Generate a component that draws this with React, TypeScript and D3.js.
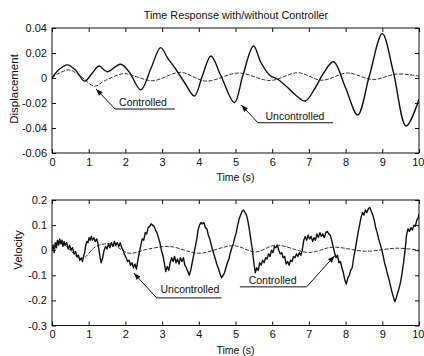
import React, { useEffect, useRef } from "react";
import * as d3 from "d3";

type Pt = [number, number];

const W = 424;
const H = 356;

const timeTicks = [0, 1, 2, 3, 4, 5, 6, 7, 8, 9, 10];
const dispTicks = [-0.06, -0.04, -0.02, 0, 0.02, 0.04];
const dispTickLabels = ["-0.06", "-0.04", "-0.02", "0", "0.02", "0.04"];
const velTicks = [-0.3, -0.2, -0.1, 0, 0.1, 0.2];
const velTickLabels = ["-0.3", "-0.2", "-0.1", "0", "0.1", "0.2"];

// displacement
const dispUncontrolled: Pt[] = [
  [0, 0], [0.2, 0.007], [0.42, 0.0105], [0.65, 0.006], [0.89, -0.0025],
  [1.1, 0.004], [1.28, 0.0096], [1.5, 0.005], [1.87, 0.011], [2.1, 0.005],
  [2.42, -0.0095], [2.7, 0.008], [2.96, 0.0243], [3.15, 0.016], [3.35, 0.008],
  [3.62, -0.004], [3.88, -0.0144], [4.1, 0.002], [4.33, 0.0176], [4.6, 0.002],
  [4.97, -0.0197], [5.2, 0.002], [5.49, 0.0256], [5.7, 0.012], [5.94, 0.002],
  [6.15, -0.001], [6.4, -0.007], [6.65, -0.014], [6.9, -0.0184], [7.17, -0.008],
  [7.4, 0.004], [7.67, 0.013], [8.0, -0.008], [8.33, -0.0296], [8.65, 0.002],
  [9.0, 0.0355], [9.3, 0.005], [9.65, -0.0384], [10, -0.017],
];

const dispControlled: Pt[] = [
  [0, 0], [0.2, 0.004], [0.48, 0.0064], [0.8, 0.001], [1.15, -0.0065],
  [1.45, -0.002], [1.95, 0.0035], [2.3, 0.001], [2.75, -0.0022], [3.5, 0.0045],
  [4.2, -0.0025], [5.08, 0.004], [5.95, -0.002], [6.7, 0.0042], [7.35, -0.0018],
  [8.05, 0.004], [8.75, -0.0012], [9.4, 0.0032], [10, 0.0015],
];

// velocity
const velUncontrolled: Pt[] = [
  [0, 0], [0.03, 0.02], [0.06, -0.01], [0.09, 0.03], [0.12, 0.01], [0.15, 0.04],
  [0.18, 0.02], [0.21, 0.045], [0.24, 0.025], [0.27, 0.04], [0.3, 0.015],
  [0.33, 0.035], [0.36, 0.02], [0.4, 0.03], [0.44, 0.005], [0.48, 0.02],
  [0.52, 0.0], [0.56, 0.01], [0.6, -0.015], [0.64, -0.005], [0.68, -0.025],
  [0.72, -0.02], [0.76, -0.04], [0.8, -0.03], [0.83, -0.045], [0.86, -0.025],
  [0.89, -0.01], [0.92, 0.02], [0.95, 0.035], [0.98, 0.03], [1.01, 0.05],
  [1.04, 0.04], [1.07, 0.055], [1.1, 0.04], [1.14, 0.05], [1.18, 0.035],
  [1.22, 0.045], [1.26, 0.02], [1.3, -0.02], [1.34, -0.05], [1.38, -0.03],
  [1.42, 0.0], [1.46, 0.015], [1.5, 0.005], [1.54, 0.025], [1.58, 0.01],
  [1.62, 0.03], [1.66, 0.015], [1.7, 0.035], [1.74, 0.02], [1.78, 0.03],
  [1.82, 0.015], [1.86, 0.03], [1.9, 0.01], [1.94, 0.0], [1.98, -0.02],
  [2.02, -0.03], [2.06, -0.045], [2.1, -0.04], [2.14, -0.06], [2.18, -0.05],
  [2.22, -0.07], [2.26, -0.055], [2.3, -0.075], [2.34, -0.04], [2.38, -0.01],
  [2.42, 0.02], [2.46, 0.045], [2.5, 0.04], [2.54, 0.07], [2.58, 0.065],
  [2.62, 0.09], [2.66, 0.095], [2.7, 0.105], [2.74, 0.1], [2.78, 0.095],
  [2.82, 0.08], [2.86, 0.07], [2.9, 0.05], [2.94, 0.03], [2.98, 0.0],
  [3.02, -0.02], [3.06, -0.05], [3.1, -0.085], [3.14, -0.065], [3.18, -0.08],
  [3.22, -0.05], [3.26, -0.03], [3.3, -0.045], [3.34, -0.025], [3.38, -0.05],
  [3.42, -0.035], [3.46, -0.055], [3.5, -0.03], [3.54, -0.045], [3.58, -0.03],
  [3.62, -0.06], [3.66, -0.07], [3.7, -0.085], [3.74, -0.1], [3.78, -0.08],
  [3.82, -0.05], [3.86, -0.02], [3.9, 0.01], [3.94, 0.04], [3.98, 0.08],
  [4.02, 0.1], [4.06, 0.11], [4.1, 0.105], [4.14, 0.11], [4.18, 0.09],
  [4.22, 0.085], [4.26, 0.06], [4.3, 0.045], [4.34, 0.02], [4.38, 0.0],
  [4.42, -0.02], [4.46, -0.04], [4.5, -0.06], [4.54, -0.075], [4.58, -0.095],
  [4.62, -0.11], [4.66, -0.1], [4.7, -0.09], [4.74, -0.07], [4.78, -0.05],
  [4.82, -0.035], [4.86, -0.01], [4.9, 0.01], [4.94, 0.025], [4.98, 0.05],
  [5.02, 0.07], [5.06, 0.1], [5.1, 0.125], [5.14, 0.14], [5.18, 0.155],
  [5.22, 0.16], [5.26, 0.15], [5.3, 0.14], [5.34, 0.115], [5.38, 0.08],
  [5.42, 0.04], [5.46, 0.0], [5.5, -0.05], [5.54, -0.09], [5.58, -0.07],
  [5.62, -0.08], [5.66, -0.05], [5.7, -0.06], [5.74, -0.04], [5.78, -0.05],
  [5.82, -0.03], [5.86, -0.035], [5.9, -0.015], [5.94, -0.025], [5.98, 0.0],
  [6.02, -0.01], [6.06, 0.015], [6.1, 0.01], [6.14, 0.02], [6.18, 0.0],
  [6.22, -0.015], [6.26, -0.01], [6.3, -0.03], [6.34, -0.025], [6.38, -0.055],
  [6.42, -0.045], [6.46, -0.06], [6.5, -0.04], [6.54, -0.045], [6.58, -0.025],
  [6.62, -0.03], [6.66, -0.015], [6.7, -0.025], [6.74, -0.01], [6.78, -0.02],
  [6.82, 0.0], [6.86, 0.04], [6.9, 0.055], [6.94, 0.04], [6.98, 0.06],
  [7.02, 0.045], [7.06, 0.055], [7.1, 0.035], [7.14, 0.05], [7.18, 0.04],
  [7.22, 0.065], [7.26, 0.05], [7.3, 0.07], [7.34, 0.055], [7.38, 0.065],
  [7.42, 0.05], [7.46, 0.07], [7.5, 0.075], [7.54, 0.065], [7.58, 0.06],
  [7.62, 0.04], [7.66, 0.015], [7.7, -0.01], [7.74, -0.03], [7.78, -0.02],
  [7.82, -0.05], [7.86, -0.045], [7.9, -0.07], [7.94, -0.09], [7.98, -0.12],
  [8.02, -0.135], [8.06, -0.11], [8.1, -0.1], [8.14, -0.08], [8.18, -0.07],
  [8.22, -0.03], [8.26, 0.0], [8.3, 0.035], [8.34, 0.07], [8.38, 0.1],
  [8.42, 0.13], [8.46, 0.15], [8.5, 0.14], [8.54, 0.16], [8.58, 0.15],
  [8.62, 0.165], [8.66, 0.17], [8.7, 0.155], [8.74, 0.14], [8.78, 0.12],
  [8.82, 0.09], [8.86, 0.07], [8.9, 0.045], [8.94, 0.025], [8.98, 0.005],
  [9.02, -0.02], [9.06, -0.05], [9.1, -0.07], [9.14, -0.095], [9.18, -0.115],
  [9.22, -0.14], [9.26, -0.165], [9.3, -0.185], [9.34, -0.205], [9.38, -0.19],
  [9.42, -0.17], [9.46, -0.15], [9.5, -0.125], [9.54, -0.09], [9.58, -0.05],
  [9.62, 0.0], [9.66, 0.06], [9.7, 0.085], [9.74, 0.075], [9.78, 0.09],
  [9.82, 0.08], [9.86, 0.1], [9.9, 0.095], [9.94, 0.12], [9.98, 0.13],
  [10, 0.145],
];

const velControlled: Pt[] = [
  [0, 0], [0.1, 0.03], [0.35, 0.02], [0.8, -0.035], [1.2, 0.015], [1.6, 0.025],
  [2.1, -0.012], [2.6, 0.004], [3.2, 0.015], [4.0, -0.012], [4.95, 0.018],
  [5.55, -0.007], [6.1, 0.02], [7.0, -0.009], [7.65, 0.012], [8.55, -0.004],
  [9.4, 0.008], [10, 0.0],
];

interface Note {
  text: string;
  at: Pt; // text centre / baseline
  line: [number, number, number]; // underline t0, t1, v
  from: "left" | "right";
  tip: Pt;
}

const dispNotes: Note[] = [
  { text: "Controlled", at: [2.48, -0.0222], line: [1.72, 3.35, -0.0248], from: "left", tip: [1.2, -0.0088] },
  { text: "Uncontrolled", at: [6.62, -0.0334], line: [5.61, 7.66, -0.0358], from: "left", tip: [5.16, -0.0216] },
];

const velNotes: Note[] = [
  { text: "Uncontrolled", at: [3.76, -0.172], line: [2.85, 4.62, -0.19], from: "left", tip: [2.23, -0.091] },
  { text: "Controlled", at: [6.01, -0.136], line: [5.12, 6.94, -0.146], from: "right", tip: [7.7, -0.022] },
];

const FONT = "'Liberation Sans', Arial, Helvetica, sans-serif";

const App: React.FC = () => {
  const ref = useRef<SVGSVGElement | null>(null);

  useEffect(() => {
    if (!ref.current) return;
    const svg = d3.select(ref.current);
    svg.selectAll("*").remove();

    const left = 52;
    const right = 419;
    const x = d3.scaleLinear().domain([0, 10]).range([left, right]);

    const panel = (
      top: number,
      bottom: number,
      domain: [number, number],
      ticks: number[],
      labels: string[],
      yLabel: string,
      yLabelX: number,
      yLabelY: number,
      unc: Pt[],
      ctl: Pt[],
      notes: Note[],
      uncSmooth: boolean
    ) => {
      const y = d3.scaleLinear().domain(domain).range([bottom, top]);
      const g = svg.append("g");

      // curves, clipped to the frame
      const clipId = `clip-${top}`;
      svg
        .append("clipPath")
        .attr("id", clipId)
        .append("rect")
        .attr("x", left)
        .attr("y", top)
        .attr("width", right - left)
        .attr("height", bottom - top);

      const smooth = d3
        .line<Pt>()
        .x((d) => x(d[0]))
        .y((d) => y(d[1]))
        .curve(d3.curveCatmullRom.alpha(0.5));
      const raw = d3
        .line<Pt>()
        .x((d) => x(d[0]))
        .y((d) => y(d[1]));

      const lines = g.append("g").attr("clip-path", `url(#${clipId})`);
      lines
        .append("path")
        .attr("d", smooth(ctl))
        .attr("fill", "none")
        .attr("stroke", "#222")
        .attr("stroke-width", 0.9)
        .attr("stroke-dasharray", "4,1.5");
      lines
        .append("path")
        .attr("d", uncSmooth ? smooth(unc) : raw(unc))
        .attr("fill", "none")
        .attr("stroke", "#111")
        .attr("stroke-width", 1.4)
        .attr("stroke-linejoin", "round");

      // axes with inward ticks
      const fmtY = (d: d3.NumberValue) => labels[ticks.indexOf(+d)] ?? "";
      g.append("g")
        .attr("transform", `translate(0,${bottom})`)
        .call(d3.axisBottom(x).tickValues(timeTicks).tickSizeInner(-4).tickSizeOuter(0).tickPadding(5).tickFormat(d3.format("d")));
      g.append("g")
        .attr("transform", `translate(0,${top})`)
        .call(d3.axisTop(x).tickValues(timeTicks).tickSizeInner(-4).tickSizeOuter(0).tickFormat(() => ""));
      g.append("g")
        .attr("transform", `translate(${left},0)`)
        .call(d3.axisLeft(y).tickValues(ticks).tickSizeInner(-4).tickSizeOuter(0).tickPadding(5).tickFormat(fmtY));
      g.append("g")
        .attr("transform", `translate(${right},0)`)
        .call(d3.axisRight(y).tickValues(ticks).tickSizeInner(-4).tickSizeOuter(0).tickFormat(() => ""));

      g.selectAll(".domain").remove();
      g.selectAll(".tick line").attr("stroke", "#111");
      g.selectAll(".tick text")
        .attr("font-family", FONT)
        .attr("font-size", 11)
        .attr("fill", "#111");
      // keep the last time label inside the page
      g.selectAll<SVGTextElement, number>(".tick text")
        .filter((d) => d === 10)
        .attr("text-anchor", "end")
        .attr("dx", 5);

      g.append("rect")
        .attr("x", left)
        .attr("y", top)
        .attr("width", right - left)
        .attr("height", bottom - top)
        .attr("fill", "none")
        .attr("stroke", "#111")
        .attr("stroke-width", 1);

      g.append("text")
        .attr("x", (left + right) / 2)
        .attr("y", bottom + 28)
        .attr("text-anchor", "middle")
        .attr("font-family", FONT)
        .attr("font-size", 10.5)
        .attr("fill", "#111")
        .text("Time (s)");

      g.append("text")
        .attr("transform", `translate(${yLabelX},${yLabelY}) rotate(-90)`)
        .attr("text-anchor", "middle")
        .attr("font-family", FONT)
        .attr("font-size", 11.5)
        .attr("fill", "#111")
        .text(yLabel);

      // annotations
      notes.forEach((n) => {
        const ux0 = x(n.line[0]);
        const ux1 = x(n.line[1]);
        const uy = y(n.line[2]);
        const sx = n.from === "left" ? ux0 : ux1;
        const tx = x(n.tip[0]);
        const ty = y(n.tip[1]);
        g.append("path")
          .attr("d", `M${ux1},${uy}L${ux0},${uy}M${sx},${uy}L${tx},${ty}`)
          .attr("fill", "none")
          .attr("stroke", "#111")
          .attr("stroke-width", 1);
        const ang = Math.atan2(ty - uy, tx - sx);
        const len = 7;
        const hw = 2.6;
        const bx = tx - len * Math.cos(ang);
        const by = ty - len * Math.sin(ang);
        const px = -Math.sin(ang) * hw;
        const py = Math.cos(ang) * hw;
        g.append("path")
          .attr("d", `M${tx},${ty}L${bx + px},${by + py}L${bx - px},${by - py}Z`)
          .attr("fill", "#111");
        g.append("text")
          .attr("x", x(n.at[0]))
          .attr("y", y(n.at[1]))
          .attr("text-anchor", "middle")
          .attr("font-family", FONT)
          .attr("font-size", 10.5)
          .attr("fill", "#111")
          .text(n.text);
      });
    };

    svg
      .append("text")
      .attr("x", 236)
      .attr("y", 19)
      .attr("text-anchor", "middle")
      .attr("font-family", FONT)
      .attr("font-size", 10.8)
      .attr("fill", "#111")
      .text("Time Response with/without Controller");

    panel(28, 153, [-0.06, 0.04], dispTicks, dispTickLabels, "Displacement", 18, 89, dispUncontrolled, dispControlled, dispNotes, true);
    panel(200, 325.5, [-0.3, 0.2], velTicks, velTickLabels, "Velocity", 22, 250, velUncontrolled, velControlled, velNotes, false);
  }, []);

  return (
    <>
      <style>{`body{margin:0;background:#fff}`}</style>
      <svg ref={ref} width={W} height={H} style={{ display: "block", background: "#fff" }} />
    </>
  );
};

export default App;
